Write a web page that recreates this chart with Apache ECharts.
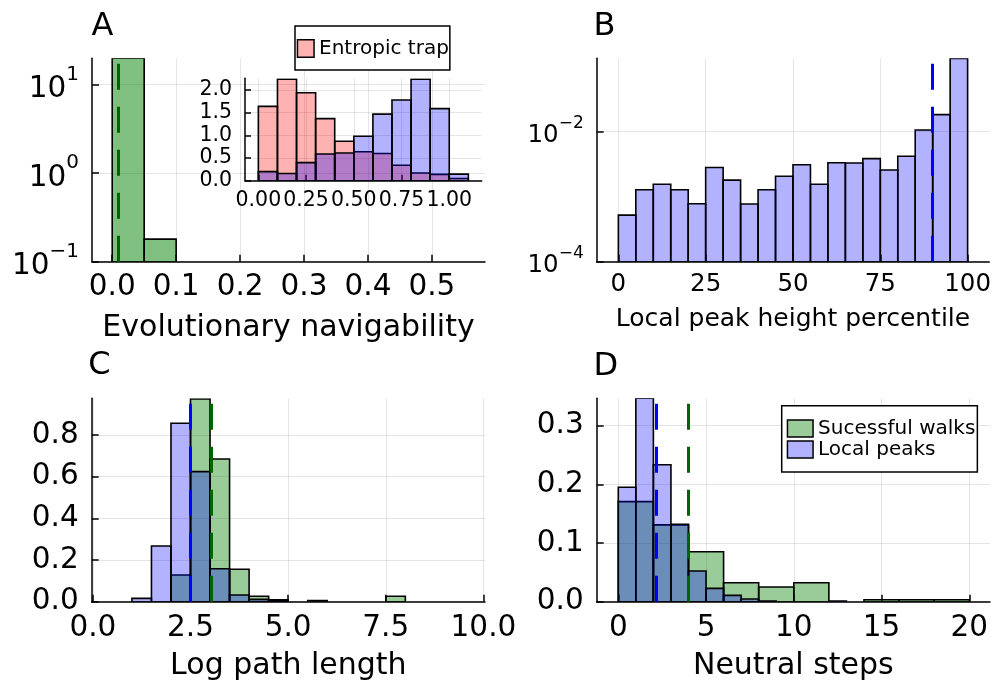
<!DOCTYPE html>
<html>
<head>
<meta charset="utf-8">
<script src="https://cdn.jsdelivr.net/npm/echarts@6/dist/echarts.min.js"></script>
<style>
  html, body { margin: 0; padding: 0; background: #fff; }
  #chart { width: 994px; height: 686px; }
</style>
</head>
<body>
<div id="chart"></div>
<script>
// ---- Panel A: evolutionary navigability (log density) ----
const navBinStart = [0.00, 0.05];
const navBinWidth = 0.05;
const navDensity = [19.8, 0.18];
const navMean = 0.006;
const navTicks = [0.0, 0.1, 0.2, 0.3, 0.4, 0.5];

// ---- Panel A inset: navigability of entropic traps vs. local peaks ----
const insetBinStart = [0.0, 0.1, 0.2, 0.3, 0.4, 0.5, 0.6, 0.7, 0.8, 0.9, 1.0];
const insetBinWidth = 0.1;
const trapDensity = [1.64, 2.24, 1.94, 1.37, 0.87, 0.64, 0.60, 0.34, 0.17, 0.14, 0.05];
const insetPeakDensity = [0.20, 0.16, 0.40, 0.59, 0.61, 0.98, 1.47, 1.78, 2.24, 1.59, 0.145];
const insetXTicks = [0.0, 0.25, 0.5, 0.75, 1.0];
const insetYTicks = [0.0, 0.5, 1.0, 1.5, 2.0];

// ---- Panel B: local peak height percentile ----
const pctBinStart = [0, 5, 10, 15, 20, 25, 30, 35, 40, 45, 50, 55, 60, 65, 70, 75, 80, 85, 90, 95];
const pctBinWidth = 5;
const pctDensity = [5.2e-4, 1.28e-3, 1.55e-3, 1.28e-3, 7.8e-4, 2.82e-3, 1.80e-3, 7.7e-4, 1.28e-3, 2.06e-3,
                    3.10e-3, 1.55e-3, 3.33e-3, 3.30e-3, 3.85e-3, 2.57e-3, 4.18e-3, 1.06e-2, 1.83e-2, 0.134];
const pctCutoff = 90;
const pctXTicks = [0, 25, 50, 75, 100];
const pctYTicks = [1e-4, 1e-2];

// ---- Panel C: log path length ----
const pathBinWidth = 0.5;
const pathWalkStart = [2.0, 2.5, 3.0, 3.5, 4.0, 4.5, 5.5, 7.5];
const pathWalkDensity = [0.128, 0.973, 0.685, 0.156, 0.026, 0.009, 0.005, 0.026];
const pathPeakStart = [1.0, 1.5, 2.0, 2.5, 3.0, 3.5, 4.0, 4.5];
const pathPeakDensity = [0.016, 0.267, 0.856, 0.624, 0.158, 0.032, 0.011, 0.005];
const pathWalkMean = 3.04;
const pathPeakMean = 2.505;
const pathXTicks = [0.0, 2.5, 5.0, 7.5, 10.0];
const pathYTicks = [0.0, 0.2, 0.4, 0.6, 0.8];

// ---- Panel D: neutral steps ----
const stepWalkWidth = 2;
const stepWalkStart = [0, 2, 4, 6, 8, 10, 14, 16, 18];
const stepWalkDensity = [0.1705, 0.131, 0.0852, 0.0324, 0.025, 0.0324, 0.0034, 0.0034, 0.0034];
const stepPeakWidth = 1;
const stepPeakStart = [0, 1, 2, 3, 4, 5, 6, 7, 8, 12];
const stepPeakDensity = [0.195, 0.3467, 0.2335, 0.132, 0.0523, 0.0227, 0.0108, 0.0045, 0.001, 0.001];
const stepWalkMean = 4.0;
const stepPeakMean = 2.15;
const stepXTicks = [0, 5, 10, 15, 20];
const stepYTicks = [0.0, 0.1, 0.2, 0.3];

const FONT = 'DejaVu Sans';
const GREEN_A = 'rgba(0,128,0,0.5)';
const GREEN = 'rgba(0,128,0,0.4)';
const BLUE = 'rgba(0,0,255,0.3)';
const RED = 'rgba(255,0,0,0.3)';
const GRID_LINE = 'rgba(0,0,0,0.1)';

function bins(starts, width, values) {
  return starts.map((s, i) => [s, s + width, values[i]]);
}

function histRender(fill) {
  return function (params, api) {
    const x0 = api.value(0), x1 = api.value(1), y = api.value(2);
    const p0 = api.coord([x0, y]);
    const p1 = api.coord([x1, y]);
    const bottom = params.coordSys.y + params.coordSys.height;
    return {
      type: 'rect',
      shape: { x: p0[0], y: p0[1], width: p1[0] - p0[0], height: bottom - p0[1] },
      style: { fill: fill, stroke: '#000', lineWidth: 1.6 }
    };
  };
}

function histSeries(name, xi, data, fill, extra) {
  return Object.assign({
    type: 'custom',
    name: name,
    xAxisIndex: xi,
    yAxisIndex: xi,
    clip: true,
    renderItem: histRender(fill),
    itemStyle: { color: fill, borderColor: '#000', borderWidth: 1.5 },
    encode: { x: [0, 1], y: 2 },
    data: data
  }, extra || {});
}

function meanLine(value, color) {
  return {
    silent: true,
    symbol: 'none',
    label: { show: false },
    lineStyle: { type: [26, 17], width: 3, color: color },
    data: [{ xAxis: value }]
  };
}

function supText(v) {
  const e = Math.round(Math.log10(v));
  return '{b|10}{s|' + (e < 0 ? '\u2212' + (-e) : String(e)) + '}';
}

function valueAxis(grid, min, max, ticks, fmt, opts) {
  const o = opts || {};
  const fs = o.fontSize || 29.5;
  const axis = {
    gridIndex: grid,
    type: o.log ? 'log' : 'value',
    min: min,
    max: max,
    axisLine: { show: true, onZero: false, lineStyle: { color: '#000', width: 1.5 } },
    axisTick: { show: true, inside: true, length: o.tickLen || 7, lineStyle: { color: '#000', width: 1.5 }, customValues: ticks },
    axisLabel: {
      customValues: ticks,
      margin: o.margin,
      fontSize: fs,
      fontFamily: FONT,
      color: '#000',
      formatter: fmt,
      showMinLabel: true,
      showMaxLabel: true
    },
    splitLine: { show: true, lineStyle: { color: GRID_LINE, width: 1 } }
  };
  if (o.log) {
    axis.logBase = 10;
    axis.axisLabel.rich = {
      b: { fontSize: fs, fontFamily: FONT, color: '#000', padding: [o.supRaise || 10, 0, 0, 0], verticalAlign: 'bottom' },
      s: { fontSize: o.supSize || 20, fontFamily: FONT, color: '#000', verticalAlign: 'top' }
    };
  }
  if (o.name) {
    axis.name = o.name;
    axis.nameLocation = 'middle';
    axis.nameGap = o.nameGap;
    axis.nameTextStyle = { fontSize: o.nameSize || 30, fontFamily: FONT, color: '#000' };
  }
  return axis;
}

const fix = (d) => (v) => Number(v).toFixed(d);

const option = {
  animation: false,
  backgroundColor: '#fff',
  textStyle: { fontFamily: FONT },
  title: [
    { text: 'A', left: 91.5, top: 11, padding: 0, textStyle: { fontSize: 32, fontWeight: 'normal', fontFamily: FONT, color: '#000' } },
    { text: 'B', left: 593.6, top: 11, padding: 0, textStyle: { fontSize: 32, fontWeight: 'normal', fontFamily: FONT, color: '#000' } },
    { text: 'C', left: 88.2, top: 349.5, padding: 0, textStyle: { fontSize: 32, fontWeight: 'normal', fontFamily: FONT, color: '#000' } },
    { text: 'D', left: 593.6, top: 351, padding: 0, textStyle: { fontSize: 32, fontWeight: 'normal', fontFamily: FONT, color: '#000' } }
  ],
  legend: [
    {
      data: ['Entropic trap'],
      left: 295, top: 26,
      orient: 'vertical',
      padding: [12.5, 1, 11.5, 1.7],
      itemWidth: 16.6, itemHeight: 17.3, itemGap: 1,
      backgroundColor: '#fff', borderColor: '#000', borderWidth: 1.5, borderRadius: 0,
      icon: 'rect',
      itemStyle: { borderColor: '#000', borderWidth: 1.5 },
      textStyle: { fontSize: 20, fontFamily: FONT, color: '#000' },
      selectedMode: false
    },
    {
      data: ['Sucessful walks', 'Local peaks'],
      left: 781.7, top: 405.7,
      orient: 'vertical',
      padding: [12.8, 2, 12.5, 5],
      itemWidth: 25.6, itemHeight: 17, itemGap: 1,
      backgroundColor: '#fff', borderColor: '#000', borderWidth: 1.5, borderRadius: 0,
      icon: 'rect',
      itemStyle: { borderColor: '#000', borderWidth: 1.5 },
      textStyle: { fontSize: 20, fontFamily: FONT, color: '#000' },
      selectedMode: false
    }
  ],
  grid: [
    { left: 92, top: 58.3, width: 393, height: 203.4 },      // A
    { left: 245, top: 78.3, width: 236.7, height: 102.4 },   // A inset
    { left: 596.7, top: 58.3, width: 393.3, height: 203.4 }, // B
    { left: 91.7, top: 398.3, width: 393.3, height: 203.4 }, // C
    { left: 596.7, top: 398.3, width: 393.3, height: 203.4 } // D
  ],
  xAxis: [
    valueAxis(0, -0.0316, 0.583, navTicks, fix(1), { margin: 11, name: 'Evolutionary navigability', nameGap: 51.5 }),
    valueAxis(1, -0.07, 1.17, insetXTicks, fix(2), { margin: 9, fontSize: 20.5, tickLen: 6 }),
    valueAxis(2, -6.2, 106.2, pctXTicks, fix(0), { margin: 10.7, fontSize: 24.5, name: 'Local peak height percentile', nameGap: 45.4, nameSize: 25 }),
    valueAxis(3, -0.03, 10.04, pathXTicks, fix(1), { margin: 12, name: 'Log path length', nameGap: 49.8 }),
    valueAxis(4, -1.23, 21.18, stepXTicks, fix(0), { margin: 11.5, name: 'Neutral steps', nameGap: 49.8 })
  ],
  yAxis: [
    valueAxis(0, 0.1, 19.8, [0.1, 1, 10], supText, { log: true, margin: 13, supSize: 20, supRaise: 10 }),
    valueAxis(1, 0, 2.26, insetYTicks, fix(1), { margin: 13, fontSize: 20.5, tickLen: 6 }),
    valueAxis(2, 1e-4, 0.1346, pctYTicks, supText, { log: true, margin: 13, fontSize: 24.5, supSize: 17, supRaise: 8 }),
    valueAxis(3, 0, 0.976, pathYTicks, fix(1), { margin: 13 }),
    valueAxis(4, 0, 0.3467, stepYTicks, fix(1), { margin: 13 })
  ],
  series: [
    histSeries('Evolutionary navigability', 0, bins(navBinStart, navBinWidth, navDensity), GREEN_A,
      { markLine: meanLine(navMean, '#006400') }),
    histSeries('Entropic trap', 1, bins(insetBinStart, insetBinWidth, trapDensity), RED),
    histSeries('Local peaks (inset)', 1, bins(insetBinStart, insetBinWidth, insetPeakDensity), BLUE),
    histSeries('Local peak height', 2, bins(pctBinStart, pctBinWidth, pctDensity), BLUE,
      { markLine: meanLine(pctCutoff, '#0000ff') }),
    histSeries('Sucessful walks', 3, bins(pathWalkStart, pathBinWidth, pathWalkDensity), GREEN),
    histSeries('Local peaks', 3, bins(pathPeakStart, pathBinWidth, pathPeakDensity), BLUE,
      { markLine: { silent: true, symbol: 'none', label: { show: false },
        data: [
          { xAxis: pathPeakMean, lineStyle: { type: [26, 17], width: 3, color: '#0000ff' } },
          { xAxis: pathWalkMean, lineStyle: { type: [26, 17], width: 3, color: '#006400' } }
        ] } }),
    histSeries('Sucessful walks', 4, bins(stepWalkStart, stepWalkWidth, stepWalkDensity), GREEN),
    histSeries('Local peaks', 4, bins(stepPeakStart, stepPeakWidth, stepPeakDensity), BLUE,
      { markLine: { silent: true, symbol: 'none', label: { show: false },
        data: [
          { xAxis: stepPeakMean, lineStyle: { type: [26, 17], width: 3, color: '#0000ff' } },
          { xAxis: stepWalkMean, lineStyle: { type: [26, 17], width: 3, color: '#006400' } }
        ] } })
  ]
};

const chart = echarts.init(document.getElementById('chart'), null, { renderer: 'canvas' });
chart.setOption(option);
</script>
</body>
</html>
